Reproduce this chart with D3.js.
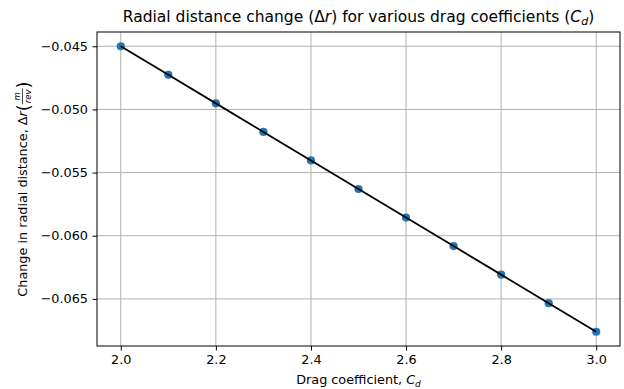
<!DOCTYPE html>
<html>
<head>
<meta charset="utf-8">
<script src="https://cdn.jsdelivr.net/npm/d3@7"></script>
<style>
  html, body { margin: 0; padding: 0; background: #fff; }
  svg { display: block; font-family: "DejaVu Sans", sans-serif; }
</style>
</head>
<body>
<svg id="chart" width="624" height="389"></svg>
<script>
// Drag coefficient values and the resulting radial distance change per revolution
const dragCoefficients = [2.0, 2.1, 2.2, 2.3, 2.4, 2.5, 2.6, 2.7, 2.8, 2.9, 3.0];
const radialChange = [-0.0450, -0.04726, -0.04952, -0.05178, -0.05404, -0.0563,
                      -0.05856, -0.06082, -0.06308, -0.06534, -0.0676];
const xTicks = [2.0, 2.2, 2.4, 2.6, 2.8, 3.0];
const yTicks = [-0.045, -0.050, -0.055, -0.060, -0.065];

const svg = d3.select("#chart");
const plotLeft = 97, plotRight = 620, plotTop = 32, plotBottom = 346;
const tickFont = 12.8, titleFont = 15.5;

// 5% padding around the data extent on both axes
const xExt = d3.extent(dragCoefficients), yExt = d3.extent(radialChange);
const xPad = (xExt[1] - xExt[0]) * 0.05, yPad = (yExt[1] - yExt[0]) * 0.05;
const x = d3.scaleLinear().domain([xExt[0] - xPad, xExt[1] + xPad]).range([plotLeft, plotRight]);
const y = d3.scaleLinear().domain([yExt[0] - yPad, yExt[1] + yPad]).range([plotBottom, plotTop]);

const fmtMinus = s => s.replace("-", "\u2212");

// grid
const grid = svg.append("g").attr("stroke", "#b0b0b0").attr("stroke-width", 1);
grid.selectAll("line.gx").data(xTicks).join("line").attr("class", "gx")
  .attr("x1", d => x(d)).attr("x2", d => x(d)).attr("y1", plotTop).attr("y2", plotBottom);
grid.selectAll("line.gy").data(yTicks).join("line").attr("class", "gy")
  .attr("y1", d => y(d)).attr("y2", d => y(d)).attr("x1", plotLeft).attr("x2", plotRight);

// axes
const xAxis = svg.append("g").attr("transform", `translate(0,${plotBottom})`)
  .call(d3.axisBottom(x).tickValues(xTicks).tickFormat(d3.format(".1f")).tickSizeOuter(0).tickSize(4.5).tickPadding(4.5));
const yAxis = svg.append("g").attr("transform", `translate(${plotLeft},0)`)
  .call(d3.axisLeft(y).tickValues(yTicks).tickFormat(d => fmtMinus(d3.format(".3f")(d))).tickSizeOuter(0).tickSize(4.5).tickPadding(4.5));
[xAxis, yAxis].forEach(g => {
  g.select(".domain").remove();
  g.selectAll(".tick line").attr("stroke", "#000").attr("stroke-width", 1);
  g.selectAll(".tick text").attr("fill", "#000").attr("font-size", tickFont)
    .attr("font-family", "DejaVu Sans, sans-serif");
});

// data points, then the connecting line on top
svg.append("g").selectAll("circle").data(dragCoefficients).join("circle")
  .attr("cx", d => x(d)).attr("cy", (d, i) => y(radialChange[i]))
  .attr("r", 4.1).attr("fill", "#1f77b4");

const line = d3.line().x(d => x(d[0])).y(d => y(d[1]));
svg.append("path").datum(dragCoefficients.map((d, i) => [d, radialChange[i]]))
  .attr("d", line).attr("fill", "none").attr("stroke", "#000").attr("stroke-width", 1.8);

// frame
svg.append("rect").attr("x", plotLeft).attr("y", plotTop)
  .attr("width", plotRight - plotLeft).attr("height", plotBottom - plotTop)
  .attr("fill", "none").attr("stroke", "#000").attr("stroke-width", 1);

// title
const title = svg.append("text").attr("x", (plotLeft + plotRight) / 2).attr("y", 22)
  .attr("text-anchor", "middle").attr("font-size", titleFont).attr("fill", "#000");
title.append("tspan").text("Radial distance change (\u0394");
title.append("tspan").attr("font-style", "italic").text("r");
title.append("tspan").text(") for various drag coefficients (");
title.append("tspan").attr("font-style", "italic").text("C");
title.append("tspan").attr("font-style", "italic").attr("font-size", 11).attr("dy", 3).text("d");
title.append("tspan").attr("dy", -3).text(")");

// x label
const xl = svg.append("text").attr("x", (plotLeft + plotRight) / 2).attr("y", 384)
  .attr("text-anchor", "middle").attr("font-size", tickFont).attr("fill", "#000");
xl.append("tspan").text("Drag coefficient, ");
xl.append("tspan").attr("font-style", "italic").text("C");
xl.append("tspan").attr("font-style", "italic").attr("font-size", 9).attr("dy", 2.5).text("d");

// y label with a stacked fraction for the unit
const yl = svg.append("g").attr("transform", `translate(27,${(plotTop + plotBottom) / 2}) rotate(-90)`);
const pieces = [];
let cursor = 0;
function piece(txt, opts = {}) {
  const t = yl.append("text").attr("font-size", opts.size || tickFont).attr("fill", "#000")
    .attr("y", opts.dy || 0).text(txt);
  if (opts.italic) t.attr("font-style", "italic");
  t.attr("x", cursor);
  cursor += t.node().getComputedTextLength();
  pieces.push(t);
  return t;
}
piece("Change in radial distance, \u0394");
piece("r", { italic: true });
piece("(", { size: 18, dy: 3 });
const fracStart = cursor;
const num = yl.append("text").attr("font-size", 8.5).attr("font-style", "italic").attr("fill", "#000")
  .attr("y", -7).attr("text-anchor", "middle").text("m");
const den = yl.append("text").attr("font-size", 8.5).attr("font-style", "italic").attr("fill", "#000")
  .attr("y", 4).attr("text-anchor", "middle").text("rev");
const fw = Math.max(num.node().getComputedTextLength(), den.node().getComputedTextLength()) + 2;
num.attr("x", fracStart + fw / 2); den.attr("x", fracStart + fw / 2);
const bar = yl.append("line").attr("x1", fracStart).attr("x2", fracStart + fw)
  .attr("y1", -4.5).attr("y2", -4.5).attr("stroke", "#000").attr("stroke-width", 0.7);
pieces.push(num, den);
cursor += fw;
piece(")", { size: 18, dy: 3 });
// center the assembled label on the axis
const shift = -cursor / 2;
pieces.forEach(p => p.attr("x", +p.attr("x") + shift));
bar.attr("x1", fracStart + shift).attr("x2", fracStart + fw + shift);
</script>
</body>
</html>
